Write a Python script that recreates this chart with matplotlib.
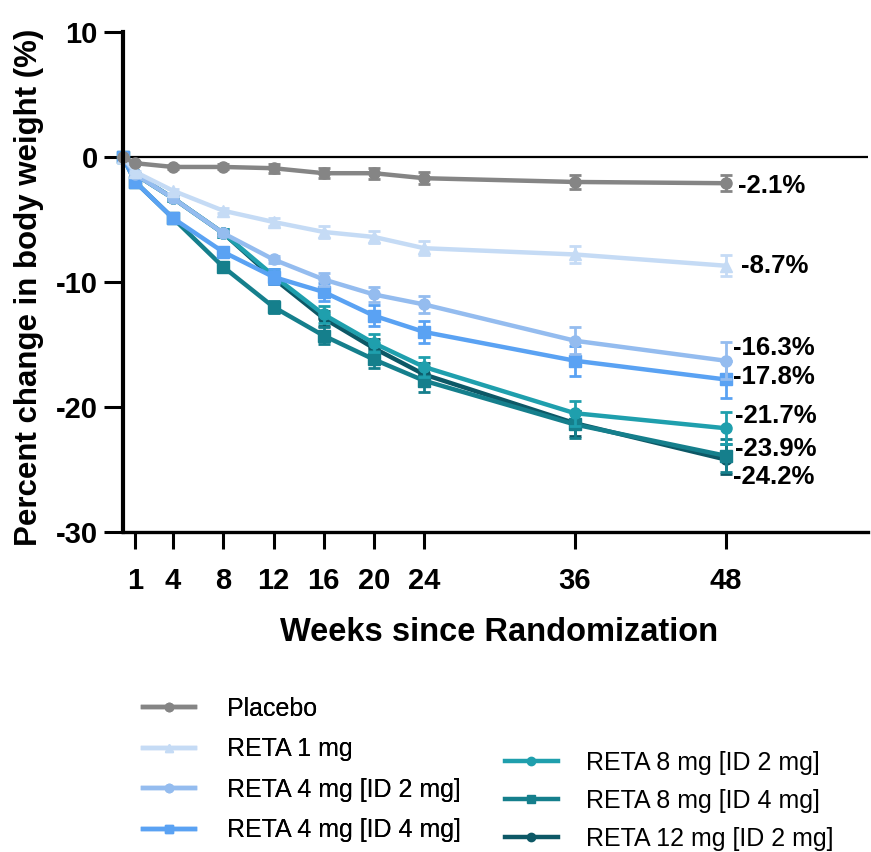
"""
Percent change in body weight by week, retatrutide dose groups vs placebo.
"""

import matplotlib
matplotlib.use("Agg")
import matplotlib.pyplot as plt
from matplotlib.lines import Line2D

plt.rcParams["font.family"] = ["Liberation Sans", "DejaVu Sans"]
plt.rcParams["axes.unicode_minus"] = False

weeks = [0, 1, 4, 8, 12, 16, 20, 24, 36, 48]
x_ticks = [1, 4, 8, 12, 16, 20, 24, 36, 48]
y_ticks = [-30, -20, -10, 0, 10]

group_names = [
    "Placebo",
    "RETA 1 mg",
    "RETA 4 mg [ID 2 mg]",
    "RETA 4 mg [ID 4 mg]",
    "RETA 8 mg [ID 2 mg]",
    "RETA 8 mg [ID 4 mg]",
    "RETA 12 mg [ID 2 mg]",
]

# mean percent change at each week
placebo = [0, -0.5, -0.8, -0.8, -0.9, -1.3, -1.3, -1.7, -2.0, -2.1]
reta_1 = [0, -1.2, -2.7, -4.3, -5.2, -6.0, -6.4, -7.3, -7.8, -8.7]
reta_4_id2 = [0, -1.4, -3.3, -6.1, -8.2, -9.8, -11.0, -11.8, -14.7, -16.3]
reta_4_id4 = [0, -2.0, -4.9, -7.6, -9.6, -10.8, -12.7, -14.0, -16.3, -17.8]
reta_8_id2 = [0, -1.4, -3.3, -6.1, -9.5, -12.6, -14.9, -16.8, -20.5, -21.7]
reta_8_id4 = [0, -2.0, -4.9, -8.8, -12.0, -14.3, -16.2, -17.9, -21.4, -23.9]
reta_12_id2 = [0, -1.4, -3.3, -6.1, -9.7, -12.9, -15.3, -17.4, -21.3, -24.2]

# standard errors
placebo_se = [0, 0.1, 0.15, 0.2, 0.35, 0.4, 0.45, 0.5, 0.55, 0.65]
reta_1_se = [0, 0.1, 0.15, 0.2, 0.3, 0.45, 0.5, 0.55, 0.7, 0.85]
reta_4_id2_se = [0, 0.1, 0.15, 0.2, 0.3, 0.5, 0.6, 0.7, 1.1, 1.5]
reta_4_id4_se = [0, 0.1, 0.2, 0.3, 0.6, 0.7, 0.85, 0.9, 1.2, 1.5]
reta_8_id2_se = [0, 0.1, 0.2, 0.3, 0.5, 0.7, 0.7, 0.8, 1.0, 1.3]
reta_8_id4_se = [0, 0.1, 0.2, 0.3, 0.45, 0.7, 0.7, 0.9, 1.1, 1.3]
reta_12_id2_se = [0, 0.1, 0.2, 0.3, 0.5, 0.6, 0.7, 0.9, 1.0, 1.2]

end_labels = ["-2.1%", "-8.7%", "-16.3%", "-17.8%", "-21.7%", "-23.9%", "-24.2%"]

colors = ["#858585", "#c5dbf5", "#94bcef", "#5aa2f3",
          "#1f9fad", "#157f8c", "#0d5866"]
markers = ["o", "^", "o", "s", "o", "s", "o"]
label_x = [48.95, 49.2, 48.55, 48.55, 48.75, 48.75, 48.55]
label_y = [-2.3, -8.7, -15.3, -17.6, -20.75, -23.4, -25.6]

means = [placebo, reta_1, reta_4_id2, reta_4_id4,
         reta_8_id2, reta_8_id4, reta_12_id2]
errors = [placebo_se, reta_1_se, reta_4_id2_se, reta_4_id4_se,
          reta_8_id2_se, reta_8_id4_se, reta_12_id2_se]

fig = plt.figure(figsize=(8.71, 8.52), dpi=100)
ax = fig.add_axes([0.141, 0.3756, 0.855, 0.5869])

# draw darkest groups first so lighter lines sit on top, as in the source
draw_order = [6, 5, 4, 3, 2, 1, 0]
for i in draw_order:
    ax.errorbar(
        weeks,
        means[i],
        yerr=errors[i],
        fmt="none",
        ecolor=colors[i],
        elinewidth=2,
        capsize=4,
        capthick=2,
        clip_on=False,
    )
    ax.plot(
        weeks,
        means[i],
        color=colors[i],
        marker=markers[i],
        markersize=8,
        linewidth=3.2,
        clip_on=False,
    )

for i in range(len(group_names)):
    ax.text(
        label_x[i],
        label_y[i],
        end_labels[i],
        fontsize=18.5,
        fontweight="bold",
        ha="left",
        va="center",
    )

ax.axhline(0, color="black", linewidth=1.6, zorder=1)

ax.set_xlim(0, 59.3)
ax.set_ylim(-30, 10)
ax.set_xticks(x_ticks)
ax.set_yticks(y_ticks)
ax.tick_params(axis="x", length=12, width=2.2, pad=13, labelsize=21)
ax.tick_params(axis="y", length=14, width=2.2, pad=4, labelsize=21)
for lbl in ax.get_xticklabels() + ax.get_yticklabels():
    lbl.set_fontweight("bold")

ax.spines["top"].set_visible(False)
ax.spines["right"].set_visible(False)
ax.spines["left"].set_linewidth(3)
ax.spines["bottom"].set_linewidth(2.4)

ax.set_ylabel("Percent change in body weight (%)", fontsize=22.5,
              fontweight="bold")
ax.yaxis.set_label_coords(-0.106, 0.49)
ax.set_xlabel("Weeks since Randomization", fontsize=23.5,
              fontweight="bold", va="top")
ax.xaxis.set_label_coords(0.505, -0.17)


def make_handle(i):
    return Line2D([0], [0], color=colors[i], marker=markers[i],
                  markersize=6, linewidth=3.2)


left_ids = [0, 1, 2, 3]
right_ids = [4, 5, 6]

leg1 = fig.legend(
    [make_handle(i) for i in left_ids],
    [group_names[i] for i in left_ids],
    loc="upper left",
    bbox_to_anchor=(0.164, 0.182),
    frameon=False,
    fontsize=18,
    handlelength=2.1,
    handletextpad=1.25,
    labelspacing=0.66,
    borderpad=0,
    borderaxespad=0,
)
fig.legend(
    [make_handle(i) for i in right_ids],
    [group_names[i] for i in right_ids],
    loc="upper left",
    bbox_to_anchor=(0.58, 0.119),
    frameon=False,
    fontsize=18,
    handlelength=2.1,
    handletextpad=1.15,
    labelspacing=0.56,
    borderpad=0,
    borderaxespad=0,
)
fig.add_artist(leg1)

fig.savefig("out.png", dpi=100)
